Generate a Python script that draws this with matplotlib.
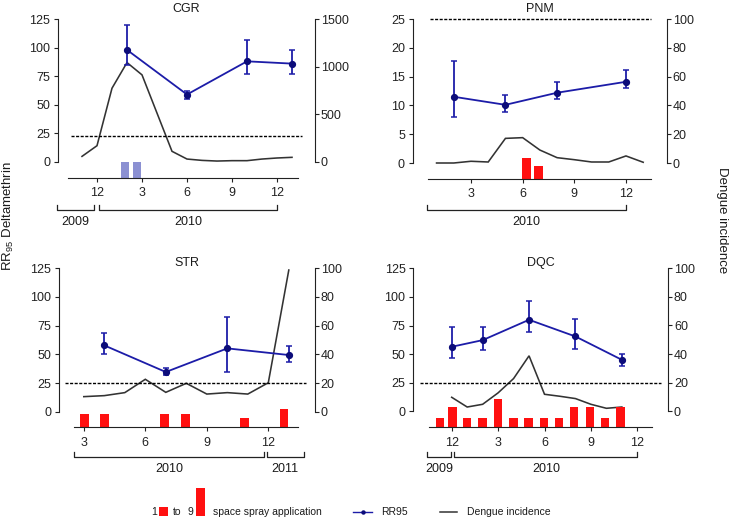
import matplotlib
matplotlib.use('Agg')
import matplotlib.pyplot as plt
from matplotlib.patches import Rectangle
from matplotlib.lines import Line2D
import numpy as np

plt.rcParams['font.family'] = ['Liberation Sans', 'DejaVu Sans']
plt.rcParams['mathtext.fontset'] = 'custom'
plt.rcParams['mathtext.rm'] = 'Liberation Sans'
plt.rcParams['text.color'] = '#1a1a1a'

W, H = 731, 520
fig = plt.figure(figsize=(W / 100, H / 100), dpi=100)

# ---------------- data ----------------
# months are counted continuously: 12 = Dec 2009, 13 = Jan 2010 ... (CGR, DQC)
# PNM / STR: 1 = Jan 2010 ... 13 = Jan 2011
cgr_rr_month = [14, 18, 22, 25]
cgr_rr = [98, 59, 88, 86]
cgr_rr_hi = [120, 62, 107, 98]
cgr_rr_lo = [85, 55, 77, 77]
cgr_dengue_month = [11, 12, 13, 14, 15, 16, 17, 18, 19, 20, 21, 22, 23, 24, 25]
cgr_dengue = [59, 171, 774, 1043, 914, 513, 112, 31, 17, 10, 14, 14, 31, 42, 49]
cgr_spray_month = [13.85, 14.67]
cgr_spray_count = [3, 3]
cgr_threshold = 23
cgr_ticks = [12, 15, 18, 21, 24]
cgr_tick_labels = ['12', '3', '6', '9', '12']
cgr_years = ['2009', '2010']
cgr_year_start = [9.35, 12.15]
cgr_year_end = [11.82, 24.0]

pnm_rr_month = [2, 5, 8, 12]
pnm_rr = [11.5, 10.1, 12.2, 14.1]
pnm_rr_hi = [17.7, 11.8, 14.1, 16.1]
pnm_rr_lo = [7.9, 8.9, 11.1, 13.0]
pnm_dengue_month = [1, 2, 3, 4, 5, 6, 7, 8, 9, 10, 11, 12, 13]
pnm_dengue = [0, 0, 1.2, 0.7, 17.1, 17.6, 9.0, 3.7, 2.3, 0.7, 0.7, 4.9, 0.5]
pnm_spray_month = [6.22, 6.91]
pnm_spray_count = [5, 2]
pnm_threshold = 25
pnm_ticks = [3, 6, 9, 12]
pnm_tick_labels = ['3', '6', '9', '12']
pnm_years = ['2010']
pnm_year_start = [0.45]
pnm_year_end = [12.0]

str_rr_month = [4, 7, 10, 13]
str_rr = [57.8, 34.6, 55.2, 49.4]
str_rr_hi = [68.3, 38.4, 82.8, 57.6]
str_rr_lo = [50.3, 32.3, 34.9, 43.3]
str_dengue_month = [3, 4, 5, 6, 7, 8, 9, 10, 11, 12, 13]
str_dengue = [10.5, 11.2, 13.3, 22.6, 13.5, 19.8, 12.3, 13.3, 12.3, 20.2, 98.8]
str_spray_month = [3.04, 4.0, 6.94, 7.97, 10.84, 12.77]
str_spray_count = [2, 2, 2, 2, 1, 4]
str_threshold = 25
str_ticks = [3, 6, 9, 12]
str_tick_labels = ['3', '6', '9', '12']
str_years = ['2010', '2011']
str_year_start = [2.52, 11.92]
str_year_end = [11.80, 13.74]

dqc_rr_month = [12, 14, 17, 20, 23]
dqc_rr = [56.4, 62.2, 80.0, 65.4, 45.0]
dqc_rr_hi = [73.3, 73.6, 96.1, 80.6, 49.9]
dqc_rr_lo = [46.7, 53.4, 69.2, 54.3, 39.7]
dqc_dengue_month = [12, 13, 14, 15, 16, 17, 18, 19, 20, 21, 22, 23]
dqc_dengue = [9.8, 3.0, 4.9, 12.9, 22.9, 38.8, 11.9, 10.5, 8.9, 4.9, 2.1, 3.0]
dqc_spray_month = [11.25, 12.06, 13.0, 14.0, 15.0, 15.99, 16.95, 17.97, 18.92,
                   19.92, 20.94, 21.9, 22.9]
dqc_spray_count = [1, 5, 1, 1, 9, 1, 1, 1, 1, 5, 5, 1, 5]
dqc_threshold = 24.5
dqc_ticks = [12, 15, 18, 21, 24]
dqc_tick_labels = ['12', '3', '6', '9', '12']
dqc_years = ['2009', '2010']
dqc_year_start = [10.4, 12.17]
dqc_year_end = [11.95, 24.0]

# ---------------- styles ----------------
BLUE = '#1c1ca8'
BLUE_MK = '#0c0c7a'
GREY = '#333333'
RED = '#ff1010'
PURPLE = '#8b90d2'
SPINE = '#222222'


def spray_px(n):
    # bar height in pixels for a number of spray applications
    return 9.5 * np.sqrt(np.asarray(n, dtype=float)) - 0.5


def panel(lay, title, rr_m, rr, rr_hi, rr_lo, d_m, d, s_m, s_n, thr,
          ticks, tick_labels, years, ys, ye, lmax, lstep, rmax, rstep, bar_color):
    L, R, top, zero, line = lay['L'], lay['R'], lay['top'], lay['zero'], lay['line']
    ppm = lay['ppm']
    m_of = lambda x: lay['mref'] + (x - lay['xref']) / ppm
    ppu = (zero - top) / lmax
    ax = fig.add_axes([L / W, 1 - line / H, (R - L) / W, (line - top) / H])
    ylo = -(line - zero) / ppu
    ax.set_ylim(ylo, lmax)
    ax.set_xlim(m_of(L), m_of(R))
    ax2 = ax.twinx()
    ax2.set_ylim(ylo * rmax / lmax, rmax)
    ax.set_zorder(ax2.get_zorder() + 1)
    ax.patch.set_visible(False)

    for s in ['top', 'right']:
        ax.spines[s].set_visible(False)
    for s in ['top', 'left', 'bottom']:
        ax2.spines[s].set_visible(False)
    ax.spines['left'].set_bounds(0, lmax)
    ax.spines['bottom'].set_bounds(m_of(lay['ax0']), m_of(lay['ax1']))
    ax2.spines['right'].set_bounds(0, rmax)
    for sp in [ax.spines['left'], ax.spines['bottom'], ax2.spines['right']]:
        sp.set_color(SPINE)
        sp.set_linewidth(0.8)

    ax.set_yticks(np.arange(0, lmax + 0.1, lstep))
    ax2.set_yticks(np.arange(0, rmax + 0.1, rstep))
    ax.set_xticks(ticks)
    ax.set_xticklabels(tick_labels)
    ax.tick_params(axis='y', direction='out', length=2.6, width=0.8, pad=3,
                   labelsize=9, colors=SPINE)
    ax.tick_params(axis='x', direction='out', length=3, width=0.8, pad=3.8,
                   labelsize=9, colors=SPINE)
    ax2.tick_params(axis='y', direction='out', length=2.6, width=0.8, pad=1.5,
                    labelsize=9, colors=SPINE)

    # dengue incidence (right axis)
    ax2.plot(d_m, d, color=GREY, lw=1.15, solid_joinstyle='miter')

    # threshold
    ax.plot([m_of(lay['d0']), m_of(lay['d1'])], [thr, thr], color='black',
            lw=1.0, ls=(0, (2.2, 1.1)), clip_on=False, zorder=2)

    # spray bars
    hs = spray_px(s_n) / ppu
    ax.bar(s_m, hs, bottom=ylo, width=8.5 / ppm, color=bar_color,
           clip_on=False, zorder=1, linewidth=0)

    # RR95
    rr = np.asarray(rr)
    yerr = [rr - np.asarray(rr_lo), np.asarray(rr_hi) - rr]
    ax.errorbar(rr_m, rr, yerr=yerr, color=BLUE, lw=1.3, elinewidth=1.3,
                capsize=2.2, capthick=1.1, marker='o', ms=4.2, mfc=BLUE_MK,
                mec=BLUE_MK, zorder=4, clip_on=False)

    # year brackets
    yb = (zero - lay['br']) / ppu
    yt = (zero - lay['br'] + 5) / ppu
    yl = (zero - lay['br'] - 11.5) / ppu
    for name, a, b in zip(years, ys, ye):
        ax.plot([a, a, b, b], [yt, yb, yb, yt], color=SPINE, lw=0.9,
                clip_on=False)
        ax.text((a + b) / 2, yl, name, ha='center', va='center', fontsize=9,
                color='#1a1a1a')

    fig.text(((L + R) / 2) / W, 1 - lay['ty'] / H, title, ha='center',
             va='center', fontsize=9)
    return ax


lay_cgr = dict(L=58, R=315, top=19, zero=162, line=178, xref=97, mref=12,
               ppm=15.0, ax0=68, ax1=298, d0=71, d1=302, br=210.3, ty=8.5)
lay_pnm = dict(L=412.7, R=667, top=19, zero=163, line=179, xref=471, mref=3,
               ppm=17.22, ax0=428, ax1=651, d0=430, d1=651, br=210.3, ty=8.5)
lay_str = dict(L=59, R=315, top=268.3, zero=411.7, line=427.3, xref=83.8,
               mref=3, ppm=20.5, ax0=74, ax1=297.7, d0=65, d1=305.7, br=457,
               ty=263.3)
lay_dqc = dict(L=413.3, R=668.3, top=268.3, zero=411.3, line=427.3,
               xref=451.7, mref=12, ppm=15.47, ax0=429.3, ax1=652.3, d0=420,
               d1=661, br=457, ty=263.3)

panel(lay_cgr, 'CGR', cgr_rr_month, cgr_rr, cgr_rr_hi, cgr_rr_lo,
      cgr_dengue_month, cgr_dengue, cgr_spray_month, cgr_spray_count,
      cgr_threshold, cgr_ticks, cgr_tick_labels, cgr_years, cgr_year_start,
      cgr_year_end, 125, 25, 1500, 500, PURPLE)
panel(lay_pnm, 'PNM', pnm_rr_month, pnm_rr, pnm_rr_hi, pnm_rr_lo,
      pnm_dengue_month, pnm_dengue, pnm_spray_month, pnm_spray_count,
      pnm_threshold, pnm_ticks, pnm_tick_labels, pnm_years, pnm_year_start,
      pnm_year_end, 25, 5, 100, 20, RED)
panel(lay_str, 'STR', str_rr_month, str_rr, str_rr_hi, str_rr_lo,
      str_dengue_month, str_dengue, str_spray_month, str_spray_count,
      str_threshold, str_ticks, str_tick_labels, str_years, str_year_start,
      str_year_end, 125, 25, 100, 20, RED)
panel(lay_dqc, 'DQC', dqc_rr_month, dqc_rr, dqc_rr_hi, dqc_rr_lo,
      dqc_dengue_month, dqc_dengue, dqc_spray_month, dqc_spray_count,
      dqc_threshold, dqc_ticks, dqc_tick_labels, dqc_years, dqc_year_start,
      dqc_year_end, 125, 25, 100, 20, RED)

# axis titles
fig.text(8 / W, 1 - 216 / H, r'RR$_{\mathregular{95}}$ Deltamethrin',
         rotation=90, ha='center', va='center', fontsize=9.5)
fig.text(722 / W, 1 - 220 / H, 'Dengue incidence', rotation=270,
         ha='center', va='center', fontsize=9.5)

# legend
LY = 512
fs = 7.5
fig.text(154.3 / W, 1 - LY / H, '1', ha='center', va='center', fontsize=fs)
h1 = float(spray_px(1))
h9 = float(spray_px(9))
fig.add_artist(Rectangle((159.3 / W, 1 - 515.7 / H), 8.4 / W, h1 / H,
                         transform=fig.transFigure, color=RED, lw=0))
fig.text(177 / W, 1 - LY / H, 'to', ha='center', va='center', fontsize=fs)
fig.text(190 / W, 1 - LY / H, '9', ha='center', va='center', fontsize=fs)
fig.add_artist(Rectangle((196 / W, 1 - 515.7 / H), 9 / W, h9 / H,
                         transform=fig.transFigure, color=RED, lw=0))
fig.text(213.3 / W, 1 - LY / H, 'space spray application', ha='left',
         va='center', fontsize=fs)
fig.add_artist(Line2D([353.3 / W, 371.7 / W], [1 - LY / H, 1 - LY / H],
                      transform=fig.transFigure, color=BLUE, lw=1.0))
fig.add_artist(Line2D([362.5 / W], [1 - LY / H], transform=fig.transFigure,
                      color=BLUE_MK, marker='o', ms=2.2, lw=0))
fig.text(381 / W, 1 - LY / H, 'RR95', ha='left', va='center', fontsize=fs)
fig.add_artist(Line2D([440 / W, 457.3 / W], [1 - LY / H, 1 - LY / H],
                      transform=fig.transFigure, color=GREY, lw=1.1))
fig.text(466.7 / W, 1 - LY / H, 'Dengue incidence', ha='left', va='center',
         fontsize=fs)

fig.savefig('out.png', dpi=100)
